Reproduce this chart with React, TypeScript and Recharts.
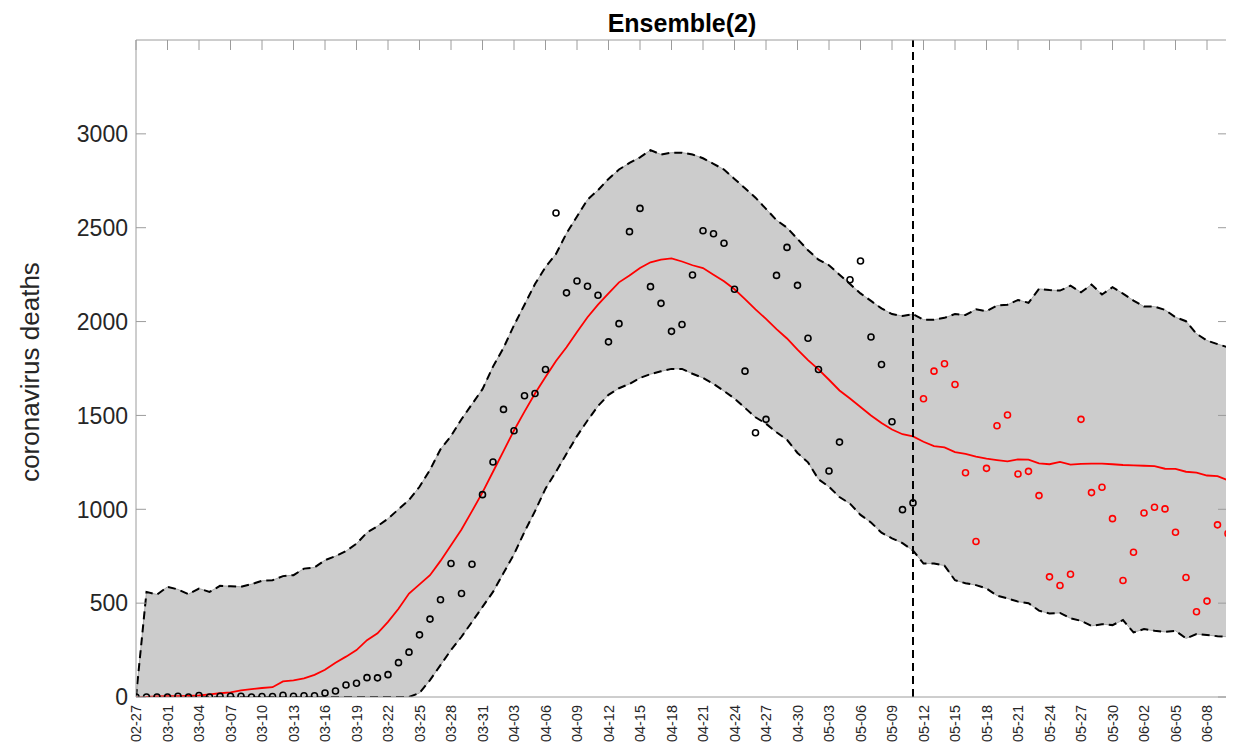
import React from "react";
import { ComposedChart, XAxis, YAxis, Area, Line, Scatter, ReferenceLine } from "recharts";

// x positions are day indices since 02-27 (2020)
const tickDays = [0, 3, 6, 9, 12, 15, 18, 21, 24, 27, 30, 33, 36, 39, 42, 45, 48, 51, 54, 57, 60, 63, 66, 69, 72, 75, 78, 81, 84, 87, 90, 93, 96, 99, 102];
const tickLabels = ["02-27", "03-01", "03-04", "03-07", "03-10", "03-13", "03-16", "03-19", "03-22", "03-25", "03-28", "03-31", "04-03", "04-06", "04-09", "04-12", "04-15", "04-18", "04-21", "04-24", "04-27", "04-30", "05-03", "05-06", "05-09", "05-12", "05-15", "05-18", "05-21", "05-24", "05-27", "05-30", "06-02", "06-05", "06-08"];
const yTicks = [0, 500, 1000, 1500, 2000, 2500, 3000];
const forecastStartDay = 74;

// observed deaths (black), days 0..74
const observedDeaths = [0, 0, 0, 0, 4, 0, 8, 0, 4, 4, 4, 0, 3, 3, 9, 4, 7, 7, 21, 32, 64, 73, 103, 102, 119, 183, 239, 331, 415, 518, 711, 551, 707, 1078, 1252, 1532, 1418, 1605, 1617, 1745, 2578, 2153, 2216, 2188, 2140, 1892, 1989, 2479, 2603, 2186, 2097, 1948, 1984, 2248, 2484, 2468, 2417, 2172, 1736, 1408, 1479, 2246, 2395, 2193, 1911, 1745, 1204, 1358, 2223, 2323, 1918, 1771, 1466, 998, 1034];
// later observed deaths (red), days 75..104
const laterDeaths = [1589, 1736, 1775, 1665, 1195, 828, 1218, 1445, 1502, 1188, 1202, 1073, 640, 594, 654, 1479, 1089, 1117, 950, 621, 771, 980, 1011, 1002, 878, 637, 454, 511, 917, 871];

// ensemble mean (red line), days 0..104
const ensembleMean = [0, 0, 3, 4, 5, 6, 8, 14, 20, 25, 35, 42, 48, 52, 83, 88, 99, 118, 145, 183, 215, 250, 303, 339, 400, 470, 551, 600, 649, 725, 809, 892, 990, 1090, 1200, 1310, 1420, 1520, 1617, 1705, 1790, 1863, 1945, 2023, 2090, 2150, 2209, 2245, 2285, 2316, 2330, 2337, 2320, 2300, 2285, 2250, 2215, 2172, 2120, 2065, 2014, 1960, 1910, 1850, 1795, 1745, 1690, 1633, 1590, 1545, 1500, 1460, 1425, 1400, 1388, 1360, 1337, 1330, 1305, 1295, 1280, 1270, 1262, 1255, 1266, 1265, 1245, 1240, 1252, 1238, 1242, 1243, 1243, 1240, 1236, 1234, 1232, 1230, 1216, 1215, 1200, 1195, 1180, 1177, 1154];
// upper bound of ensemble band, days 0..104
const upperBound = [0, 560, 546, 587, 573, 548, 578, 560, 592, 590, 587, 601, 619, 622, 644, 649, 684, 690, 729, 750, 777, 817, 876, 910, 950, 1000, 1050, 1120, 1210, 1320, 1390, 1480, 1560, 1640, 1760, 1860, 1980, 2090, 2200, 2290, 2360, 2470, 2560, 2650, 2700, 2760, 2810, 2845, 2875, 2913, 2890, 2900, 2900, 2890, 2870, 2840, 2810, 2760, 2710, 2660, 2600, 2540, 2500, 2440, 2380, 2330, 2300, 2250, 2200, 2150, 2110, 2070, 2040, 2030, 2040, 2010, 2010, 2020, 2040, 2035, 2065, 2055, 2085, 2090, 2115, 2100, 2174, 2168, 2165, 2191, 2156, 2197, 2144, 2183, 2149, 2112, 2080, 2080, 2062, 2023, 2002, 1935, 1899, 1880, 1863];
// lower bound of ensemble band, days 0..104
const lowerBound = [0, 0, 0, 0, 0, 0, 0, 0, 0, 0, 0, 0, 0, 0, 0, 0, 0, 0, 0, 0, 0, 0, 0, 0, 0, 0, 0, 21, 90, 170, 250, 321, 400, 480, 560, 660, 760, 880, 990, 1110, 1200, 1296, 1390, 1473, 1550, 1610, 1645, 1668, 1700, 1720, 1735, 1748, 1748, 1722, 1700, 1668, 1630, 1590, 1540, 1490, 1456, 1410, 1370, 1300, 1250, 1160, 1120, 1065, 1030, 970, 930, 875, 845, 820, 780, 711, 711, 700, 622, 606, 596, 578, 540, 525, 508, 500, 460, 445, 448, 419, 406, 379, 388, 383, 410, 344, 362, 353, 347, 353, 312, 335, 330, 324, 321];

const rows = ensembleMean.map((m, i) => ({ day: i, mean: m, upper: upperBound[i], lower: lowerBound[i] }));
const observedRows = observedDeaths.map((v, i) => ({ day: i, obs: v }));
const laterRows = laterDeaths.map((v, i) => ({ day: observedDeaths.length + i, obs: v }));

const FONT = "'Liberation Sans', Arial, Helvetica, sans-serif";
const AXIS_GRAY = "#9c9c9c";
const TEXT = "#262626";

const labelFor = (d: number) => {
  const k = tickDays.indexOf(d);
  return k >= 0 ? tickLabels[k] : "";
};

const BottomTick = (props: any) => {
  const { x, y, payload } = props;
  return (
    <text
      transform={`translate(${x},${y + 8}) rotate(-90)`}
      textAnchor="end"
      dy="0.36em"
      fontSize={14.5}
      fontFamily={FONT}
      fill={TEXT}
    >
      {labelFor(payload.value)}
    </text>
  );
};

const TopTick = (props: any) => {
  const { x, y } = props;
  return <line x1={x} y1={y} x2={x} y2={y + 10} stroke={AXIS_GRAY} strokeWidth={1} />;
};

const LeftTick = (props: any) => {
  const { x, y, payload } = props;
  return (
    <g>
      <line x1={x + 8} y1={y} x2={x + 18} y2={y} stroke={AXIS_GRAY} strokeWidth={1} />
      <text x={x} y={y} dy="0.36em" textAnchor="end" fontSize={23} fontFamily={FONT} fill={TEXT}>
        {payload.value}
      </text>
    </g>
  );
};

const RightTick = (props: any) => {
  const { x, y } = props;
  return <line x1={x} y1={y} x2={x - 10} y2={y} stroke={AXIS_GRAY} strokeWidth={1} />;
};

const makeDot = (color: string) => (props: any) => {
  const { cx, cy } = props;
  if (cx == null || cy == null || isNaN(cx) || isNaN(cy)) return <g />;
  return <circle cx={cx} cy={cy} r={3} fill="none" stroke={color} strokeWidth={1.6} />;
};

export default function App() {
  const W = 1226;
  const H = 736;
  return (
    <div style={{ position: "relative", width: W, height: H }}>
      <ComposedChart width={W} height={H} data={rows} margin={{ top: 31, right: 5, bottom: 0, left: 0 }}>
        <XAxis
          dataKey="day"
          type="number"
          domain={[0, 104]}
          ticks={tickDays}
          interval={0}
          tickSize={0}
          tickMargin={0}
          tickLine={false}
          height={47}
          axisLine={{ stroke: AXIS_GRAY }}
          tick={<BottomTick />}
          allowDataOverflow
        />
        <XAxis
          xAxisId="top"
          orientation="top"
          dataKey="day"
          type="number"
          domain={[0, 104]}
          ticks={tickDays}
          interval={0}
          tickSize={0}
          tickMargin={0}
          tickLine={false}
          height={1}
          axisLine={{ stroke: AXIS_GRAY }}
          tick={<TopTick />}
          allowDataOverflow
        />
        <YAxis
          type="number"
          domain={[0, 3500]}
          ticks={yTicks}
          interval={0}
          tickSize={0}
          tickMargin={8}
          tickLine={false}
          width={128}
          axisLine={{ stroke: AXIS_GRAY }}
          tick={<LeftTick />}
          allowDataOverflow
        />
        <YAxis
          yAxisId="right"
          orientation="right"
          type="number"
          domain={[0, 3500]}
          ticks={yTicks}
          interval={0}
          tickSize={0}
          tickMargin={0}
          tickLine={false}
          width={1}
          axisLine={{ stroke: AXIS_GRAY }}
          tick={<RightTick />}
          allowDataOverflow
        />
        <Area
          type="linear"
          dataKey={(d: any) => [d.lower, d.upper]}
          fill="#cccccc"
          fillOpacity={1}
          stroke="#a8a8a8"
          strokeWidth={1}
          isAnimationActive={false}
          activeDot={false}
        />
        <Line type="linear" dataKey="upper" stroke="#000" strokeWidth={2} strokeDasharray="8 5" dot={false} isAnimationActive={false} />
        <Line type="linear" dataKey="lower" stroke="#000" strokeWidth={2} strokeDasharray="8 5" dot={false} isAnimationActive={false} />
        <Line type="linear" dataKey="mean" stroke="#ff0000" strokeWidth={1.8} dot={false} isAnimationActive={false} />
        <ReferenceLine x={forecastStartDay} stroke="#000" strokeWidth={2} strokeDasharray="8 5" />
        <Scatter data={observedRows} dataKey="obs" shape={makeDot("#000000")} isAnimationActive={false} />
        <Scatter data={laterRows} dataKey="obs" shape={makeDot("#ff0000")} isAnimationActive={false} />
      </ComposedChart>
      <svg width={W} height={H} style={{ position: "absolute", left: 0, top: 0, pointerEvents: "none" }}>
        <text x={674} y={24} textAnchor="middle" fontSize={25} fontWeight="bold" fontFamily={FONT} fill="#000">
          Ensemble(2)
        </text>
        <text
          transform="translate(31,364) rotate(-90)"
          textAnchor="middle"
          fontSize={26}
          fontFamily={FONT}
          fill={TEXT}
        >
          coronavirus deaths
        </text>
      </svg>
    </div>
  );
}
